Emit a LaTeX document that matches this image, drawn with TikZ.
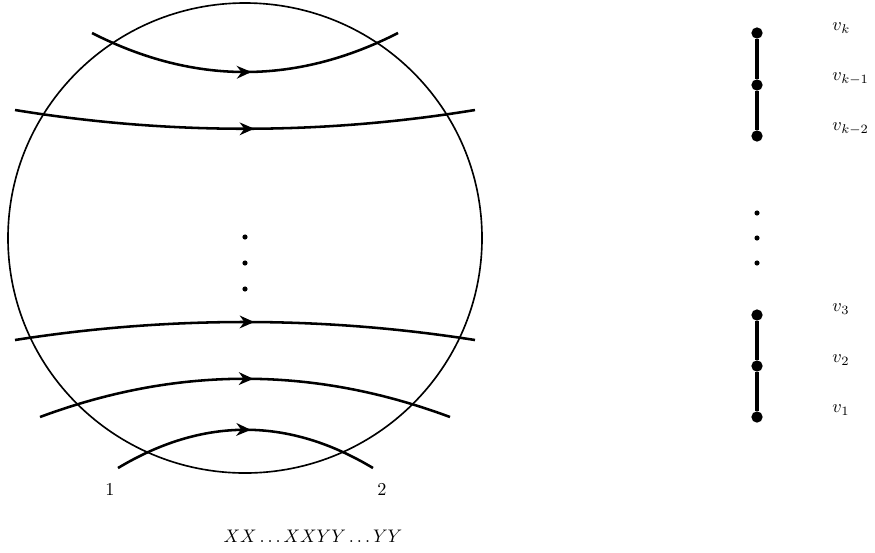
\documentclass[tikz,border=0pt]{standalone}
\usetikzlibrary{arrows.meta,decorations.markings}
\begin{document}
\begin{tikzpicture}[x=0.55pt, y=-0.55pt,
  strand/.style={line width=1.4pt, postaction={decorate},
    decoration={markings, mark=at position 0.52 with {\arrow{Stealth[length=8pt,width=7pt]}}}},
  v/.style={circle, fill, inner sep=2.2pt},
  d/.style={circle, fill, inner sep=1pt}]
\useasboundingbox (0,0) rectangle (875,552);
\draw[line width=0.9pt] (245,238) ellipse[x radius=237, y radius=235];
\draw[strand] (92,33) .. controls (194,85) and (296,85) .. (398,33);
\draw[strand] (15,110) .. controls (168,135) and (322,135) .. (475,110);
\draw[strand] (15,340) .. controls (168,316) and (322,316) .. (475,340);
\draw[strand] (40,417) .. controls (177,366) and (313,366) .. (450,417);
\draw[strand] (118,468) .. controls (203,417) and (288,417) .. (373,468);
\foreach \y in {237,263,289} \node[d] at (245,\y) {};
\node (p1) at (110,490) {$1$};
\node (p2) at (382,490) {$2$};
\node (word) at (313,536) {$XX\ldots XXYY\ldots YY$};
\node[v] (n1) at (757,417) {};
\node[v] (n2) at (757,366) {};
\node[v] (n3) at (757,315) {};
\node[v] (m2) at (757,136) {};
\node[v] (m1) at (757,85) {};
\node[v] (m0) at (757,33) {};
\draw[line width=2.3pt] (n1)--(n2)--(n3);
\draw[line width=2.3pt] (m2)--(m1)--(m0);
\foreach \y in {213,238,263} \node[d] at (757,\y) {};
\node[anchor=west] (l1) at (826,410) {$v_1$};
\node[anchor=west] (l2) at (826,360) {$v_2$};
\node[anchor=west] (l3) at (826,309) {$v_3$};
\node[anchor=west] (lk2) at (826,129) {$v_{k-2}$};
\node[anchor=west] (lk1) at (826,79) {$v_{k-1}$};
\node[anchor=west] (lk) at (826,28) {$v_k$};
\end{tikzpicture}
\end{document}
